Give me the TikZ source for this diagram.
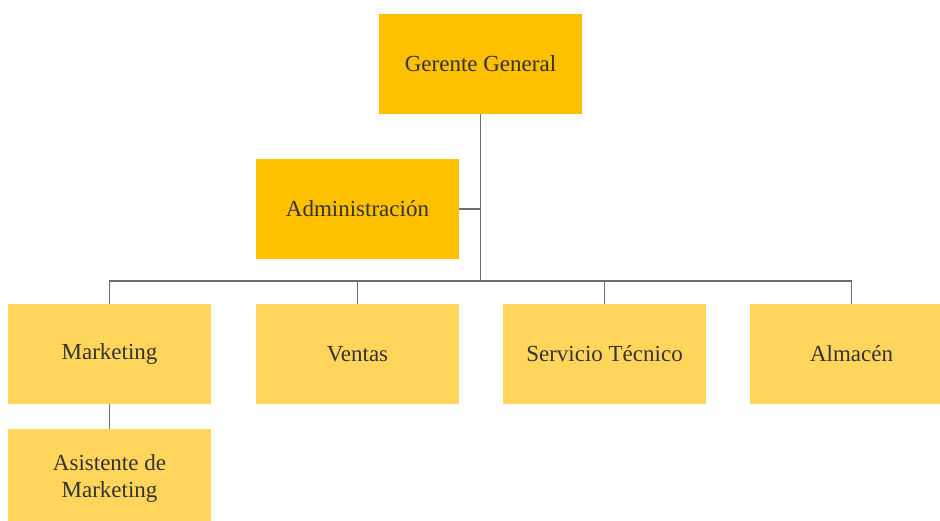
\documentclass[tikz,border=0pt]{standalone}
\usepackage{fontspec}
\setmainfont{Liberation Serif}
\usetikzlibrary{positioning}
\definecolor{gold}{HTML}{FFC000}
\definecolor{lightgold}{HTML}{FFD55B}
\definecolor{linegray}{HTML}{6E6E6E}
\definecolor{textgray}{HTML}{333333}

\begin{document}
\begin{tikzpicture}[x=1pt,y=-1pt,
    box/.style={minimum width=203pt, minimum height=100pt, inner sep=0pt, align=center, text=textgray, font=\fontsize{23}{27}\selectfont},
    head/.style={box, fill=gold},
    dept/.style={box, fill=lightgold},
    link/.style={draw=linegray, line width=1.2pt}]
      \clip (0,0) rectangle (940,521);
      \node[head] (gg) at (480.5,64) {Gerente General};
      \node[head] (adm) at (357.5,209) {Administración};
      \node[dept] (mkt) at (109.5,354) {Marketing};
      \node[dept] (ven) at (357.5,354) {Ventas};
      \node[dept] (sev) at (604.5,354) {Servicio Técnico};
      \node[dept] (alm) at (851.5,354) {Almacén};
      \node[dept] (asm) at (109.5,479) {Asistente de\\Marketing};
      \coordinate (bus) at (480.5,281);
      \draw[link] (gg.south) -- (bus);
      \draw[link] (adm.east) -- (adm.east -| gg.south);
      \draw[link] (mkt.north) |- (bus) -| (alm.north);
      \draw[link] (ven.north) -- (ven.north |- bus);
      \draw[link] (sev.north) -- (sev.north |- bus);
      \draw[link] (mkt.south) -- (asm.north);
    \end{tikzpicture}
\end{document}
